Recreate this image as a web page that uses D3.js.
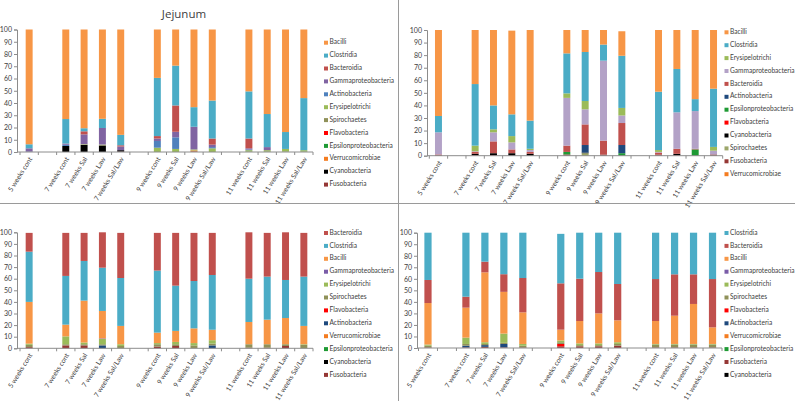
<!DOCTYPE html>
<html><head><meta charset="utf-8">
<script src="https://cdn.jsdelivr.net/npm/d3@7"></script>
<style>
body{margin:0;background:#fff}
svg{display:block}
text{font-family:Lato,"Liberation Sans",sans-serif;fill:#404040}
</style>
</head><body>
<svg id="chart" width="795" height="401"></svg>
<script>
// ---------- DATA ----------
const categories = ["5 weeks cont","","7 weeks cont","7 weeks Sal","7 weeks Law","7 weeks Sal/Law","",
  "9 weeks cont","9 weeks Sal","9 weeks Law","9 weeks Sal/Law","",
  "11 weeks cont","11 weeks Sal","11 weeks Law","11 weeks Sal/Law"];
const yTicks = [0,10,20,30,40,50,60,70,80,90,100];
const titleA = "Jejunum";

// values per series for the 13 real categories (order as in categories, blanks skipped)
// Panel A (top-left), series listed bottom -> top of stack
const seriesA = ["Fusobacteria","Cyanobacteria","Verrucomicrobiae","Epsilonproteobacteria","Flavobacteria","Spirochaetes","Erysipelotrichi","Actinobacteria","Gammaproteobacteria","Bacteroidia","Clostridia","Bacilli"];
const valuesA = [
  [0,0,0,0,0.3, 0,0,0.5,0, 0,0,0,0],
  [0,4.9,5.8,5.3,1.2, 0,0,0,0, 0,0,0,0],
  [0,0,0,0,0, 0,0,0.8,0, 0,0,0,0],
  [0,0,0,0,0, 0,0,0,0, 0,0,0,0],
  [0,0,0,0,0, 0,0,0,0, 0,0,0,0],
  [0,0,0.3,0.5,0, 0,0,0,0, 0.3,0.3,0.3,0.3],
  [0,0,0.3,0.3,0, 3.5,2.5,0.8,3, 1.2,1.2,2.2,1.2],
  [0.3,1,0,0,0, 5.5,9.5,0,1, 0.5,0,0,0],
  [2.7,1,8,13.5,3, 2,4.5,18.5,2, 1,2.5,0,0],
  [0,0,2.5,0,1, 2,21.5,0,5, 8,0,0,0],
  [3.3,20,2.5,7.5,8.5, 47.5,32.5,16,31, 38.5,27,13.8,42.5],
  [93.7,73.1,80.6,72.9,86, 39.5,29.5,63.4,58, 50.5,69,83.7,56]
];

// Panel B (top-right)
const seriesB = ["Verrucomicrobiae","Fusobacteria","Spirochaetes","Cyanobacteria","Flavobacteria","Epsilonproteobacteria","Actinobacteria","Bacteroidia","Gammaproteobacteria","Erysipelotrichi","Clostridia","Bacilli"];
const valuesB = [
  [0,0,0,0,0, 0,0,0,0, 0,0,0,0],
  [0.5,0.5,0.5,0,0, 1,0,1,0, 1,0.5,0,1],
  [0,0,0,0,0, 0,2,0,0, 0,0,0,0],
  [0,1,1.5,2,1.5, 0,0.5,0,0, 0,1,0,0],
  [0,0,0,0,0, 0,0,0,0, 0,0,0,0],
  [0,0,0,0,0, 2,0,0,2, 0,0,5,0],
  [0,0,0,0,0, 0,6,0,6.5, 0,0,0,0],
  [0.5,1.5,9.4,3,1.5, 5,16.4,11,17.5, 1.5,4,0.5,0],
  [17.6,0.5,7.2,5.6,1.5, 38,12,63.6,6, 0.5,29,30,3],
  [0,4.5,2.4,5,1, 3.6,6.6,0,6, 1.5,0,0,3],
  [13,49,19,17.3,22.4, 31.8,39,12.8,41.5, 46.4,34.5,9.5,46.3],
  [68.4,43,60,66.6,72.1, 18.6,17.5,11.6,19.5, 49.1,31,55,46.7]
];

// Panel C (bottom-left)
const seriesC = ["Fusobacteria","Cyanobacteria","Epsilonproteobacteria","Verrucomicrobiae","Actinobacteria","Flavobacteria","Spirochaetes","Erysipelotrichi","Gammaproteobacteria","Bacilli","Clostridia","Bacteroidia"];
const valuesC = [
  [1,2.5,2.5,0,0, 1.5,2,0,0, 0.5,0.5,2,0],
  [0,0,0,0,0, 0,0,0,0, 0,0,0,0],
  [0,0,0,0,0, 0,0,0,0, 0,0,0,0],
  [0,0,0,0,0, 0,0,0,0, 0,0,0,0],
  [0,0,0,2.5,0, 0,0,0,2.5, 0,0,0,0],
  [0,0,0,0,0, 0,0,0,0, 0,0,0,0],
  [2,1,1,1,2, 2,1.5,2.5,1.5, 3,3,1.5,3],
  [1,6.8,1.5,4.5,1.5, 1,2,2,3, 0,0,0,0.5],
  [0,0,0,0.5,0, 0,0,0,0, 0,0,0,0],
  [36,10.1,36.1,23.7,15.8, 9,9.5,12.7,9, 19.2,21.2,22.6,15.8],
  [43.3,42,34.2,37.3,41.3, 53.5,39,40.8,47.2, 37.3,37.1,32.8,42.5],
  [16.2,37.1,24.2,30.5,38.9, 32.5,45.5,41.5,36.3, 40,37.7,41.1,37.7]
];

// Panel D (bottom-right)
const seriesD = ["Cyanobacteria","Fusobacteria","Epsilonproteobacteria","Verrucomicrobiae","Actinobacteria","Flavobacteria","Spirochaetes","Erysipelotrichi","Gammaproteobacteria","Bacilli","Bacteroidia","Clostridia"];
const valuesD = [
  [0,0,0,0,0, 0,0,0,0, 0,0,0,0],
  [0.5,0.5,1,0.5,0.5, 1.5,1.5,1.5,2, 0.5,0.5,0.5,0.5],
  [0,0,0,0,0, 0,0,0,0, 0,0,0,0],
  [0,0,0,0,0, 0,0,0,0, 0,0,0,0],
  [0,1.5,1.5,3,0, 0,0,0,0, 0,0,0,0],
  [0,0,0,0,0, 2,0,0,0, 0,0,0,0],
  [1.5,1.5,1,1,1.5, 1.5,1,1,1.5, 2.5,2.5,2.5,2.5],
  [1,5.5,1.5,8,1.5, 1.5,1.5,1.5,1.5, 0.5,0.5,0.5,0.5],
  [0,0,0,0,0, 0,0,0,0, 0,0,0,0],
  [36,26,60.6,36.2,27.4, 9.4,19.4,26,19, 19.9,24.5,34.7,14.4],
  [20,9.5,9.3,15.3,29.8, 40.2,36.7,35.9,31.5, 36.4,35.9,25.7,41.9],
  [41,55.5,25.1,36,39.3, 42.9,39.9,34.1,44.5, 40.2,36.1,36.1,40.2]
];

// ---------- COLOURS ----------
const baseColors = {
  Bacilli:"#F79646", Clostridia:"#4BACC6", Bacteroidia:"#C0504D",
  Gammaproteobacteria:"#8064A2", Actinobacteria:"#4F81BD", Erysipelotrichi:"#9BBB59",
  Spirochaetes:"#8F9159", Flavobacteria:"#FF0000", Epsilonproteobacteria:"#1E9A34",
  Verrucomicrobiae:"#F47C20", Cyanobacteria:"#000000", Fusobacteria:"#953735"
};
const colorsA = Object.assign({}, baseColors);
const colorsB = Object.assign({}, baseColors, {Gammaproteobacteria:"#B3A2C7", Actinobacteria:"#1F497D", Spirochaetes:"#9CA66A"});
const colorsC = Object.assign({}, baseColors, {Gammaproteobacteria:"#7A5CA8", Actinobacteria:"#1F497D"});
const colorsD = Object.assign({}, baseColors, {Gammaproteobacteria:"#7A5CA8", Actinobacteria:"#1F497D"});

// ---------- DRAW ----------
const svg = d3.select("#chart");
svg.append("rect").attr("width",795).attr("height",401).attr("fill","#fff");

const realIdx = categories.map((c,i)=>c ? i : -1).filter(i=>i>=0);
const FONT = 'Lato,"Liberation Sans",sans-serif';

function drawPanel(cfg){
  const g = svg.append("g");
  const x = d3.scaleBand().domain(d3.range(categories.length))
    .range([cfg.x0, cfg.x1]).paddingInner(0.62).paddingOuter(0.31);
  const y = d3.scaleLinear().domain([0,100]).range([cfg.yb, cfg.yt]);

  const rows = realIdx.map((ci, k) => {
    const r = {idx: ci};
    cfg.series.forEach((s, si) => r[s] = cfg.values[si][k]);
    return r;
  });
  const stack = d3.stack().keys(cfg.series)(rows);
  g.selectAll("g.layer").data(stack).join("g").attr("fill", d => cfg.colors[d.key])
    .selectAll("rect").data(d => d.filter(p => p[1] - p[0] > 0)).join("rect")
    .attr("x", d => x(d.data.idx)).attr("width", x.bandwidth())
    .attr("y", d => y(d[1])).attr("height", d => y(d[0]) - y(d[1]));

  // y axis
  const ya = g.append("g").attr("transform", `translate(${cfg.ax},0)`)
    .call(d3.axisLeft(y).tickValues(yTicks).tickSize(3).tickPadding(2));
  ya.select(".domain").attr("stroke","#8c8c8c");
  ya.selectAll(".tick line").attr("stroke","#8c8c8c");
  ya.selectAll(".tick text").attr("font-size",7).attr("fill","#404040").style("font-family",FONT);

  // x axis line + ticks between categories
  g.append("line").attr("x1",cfg.ax).attr("x2",cfg.x1).attr("y1",cfg.yb).attr("y2",cfg.yb)
    .attr("stroke","#8c8c8c");
  const step = x.step();
  g.selectAll("line.xt").data(d3.range(categories.length+1)).join("line")
    .attr("x1", i => cfg.x0 + i*step).attr("x2", i => cfg.x0 + i*step)
    .attr("y1", cfg.yb).attr("y2", cfg.yb+3).attr("stroke","#8c8c8c");
  g.selectAll("text.xl").data(realIdx).join("text")
    .attr("transform", i => `translate(${x(i)+x.bandwidth()/2+2},${cfg.yb+6}) rotate(-58)`)
    .attr("text-anchor","end").attr("font-size",6.8).attr("dominant-baseline","middle")
    .text(i => categories[i]);

  // legend (top item = top of stack)
  const leg = cfg.series.slice().reverse();
  const lg = g.selectAll("g.leg").data(leg).join("g")
    .attr("transform", (d,i) => `translate(${cfg.lx},${cfg.ly + i*cfg.lstep})`);
  lg.append("rect").attr("x",0).attr("y",-2).attr("width",4).attr("height",4)
    .attr("fill", d => cfg.colors[d]);
  lg.append("text").attr("x",5.5).attr("y",0).attr("dominant-baseline","middle")
    .attr("font-size",6.6).text(d => d);

  if (cfg.title) {
    g.append("text").attr("x",cfg.tx).attr("y",cfg.ty).attr("text-anchor","middle")
      .attr("font-size",11.5).attr("fill","#1a1a1a").style("font-family",'"Open Sans",sans-serif').text(cfg.title);
  }
}

drawPanel({series:seriesA, values:valuesA, colors:colorsA, x0:20, x1:313, ax:17, yb:152, yt:29.5,
  lx:324, ly:42.7, lstep:12.9, title:titleA, tx:184, ty:18});
drawPanel({series:seriesB, values:valuesB, colors:colorsB, x0:429.3, x1:722.7, ax:427, yb:155.7, yt:30,
  lx:724.5, ly:32.3, lstep:12.9});
drawPanel({series:seriesC, values:valuesC, colors:colorsC, x0:20, x1:313, ax:17, yb:348.3, yt:232.3,
  lx:324, ly:233, lstep:12.9});
drawPanel({series:seriesD, values:valuesD, colors:colorsD, x0:418.5, x1:722, ax:417, yb:348, yt:232.7,
  lx:724.5, ly:233, lstep:12.9});

// panel dividers
svg.append("line").attr("x1",398.5).attr("x2",398.5).attr("y1",0).attr("y2",401).attr("stroke","#9a9a9a");
svg.append("line").attr("x1",0).attr("x2",795).attr("y1",203.5).attr("y2",203.5).attr("stroke","#9a9a9a");
</script>
</body></html>
